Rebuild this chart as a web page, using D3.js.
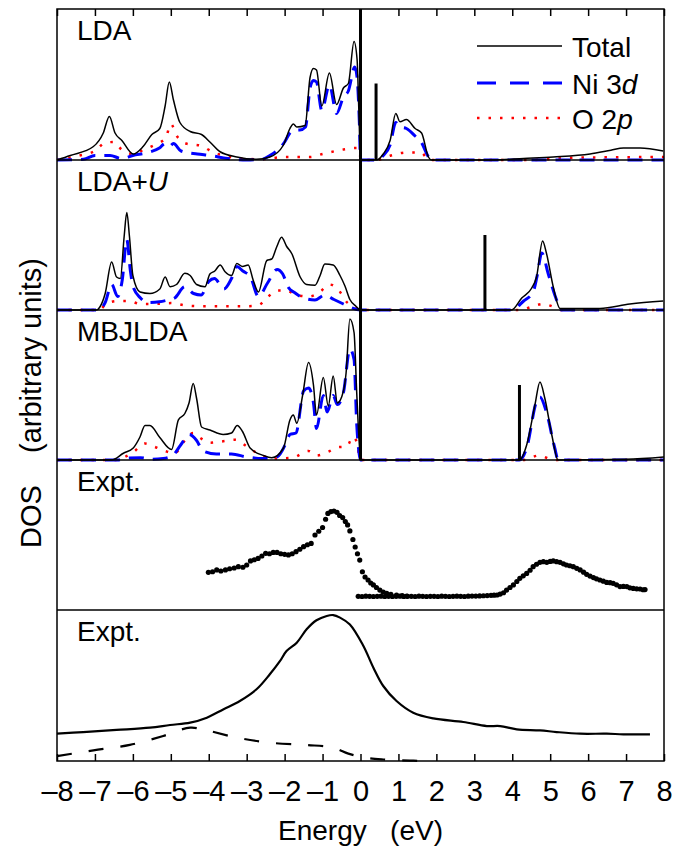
<!DOCTYPE html>
<html><head><meta charset="utf-8">
<script src="https://cdn.jsdelivr.net/npm/d3@7"></script>
<style>
html,body{margin:0;padding:0;background:#fff;}
text{font-family:"Liberation Sans",Arial,Helvetica,sans-serif;fill:#000;}
</style></head>
<body>
<svg id="chart" width="674" height="849"></svg>
<script>
// ---------------- DATA ----------------
const xTicks = [-8,-7,-6,-5,-4,-3,-2,-1,0,1,2,3,4,5,6,7,8];
const panelNames = ["LDA", "LDA+U", "MBJLDA", "Expt.", "Expt."];
const gapEnergy = [0.41, 3.28, 4.19];
const gapHeight = [51, 50, 50];

const ldaTotal = [[-8,0],[-7.65,3],[-7.04,9],[-6.78,18],[-6.62,29],[-6.47,18],[-6.29,13],[-5.99,4],[-5.73,9],[-5.5,17],[-5.29,21],[-5.15,36],[-5.04,52],[-4.93,40],[-4.76,25],[-4.49,19],[-4.19,17],[-3.97,12],[-3.7,5.5],[-3.26,2],[-2.74,0.5],[-2.39,2],[-2.03,10],[-1.86,21],[-1.77,24],[-1.68,22],[-1.46,23],[-1.33,55],[-1.24,61],[-1.16,60],[-1.02,36],[-0.82,58],[-0.63,37],[-0.45,48],[-0.32,51],[-0.17,79],[-0.09,67],[-0.04,30],[0,0],[0.43,0],[0.6,4],[0.78,13],[0.93,31],[1.04,25.5],[1.21,27],[1.44,21],[1.61,18],[1.79,2],[1.87,0],[3.5,0],[4.3,1],[5.08,2],[6.05,4],[6.6,6.5],[6.93,8],[7.37,8],[7.98,6]];
const ldaNi3d = [[-8,0],[-7.3,0.5],[-7.0,3],[-6.6,3],[-6.3,1],[-6.0,3],[-5.6,5],[-5.3,8],[-5.15,11],[-5.04,9],[-4.93,11],[-4.73,6],[-4.3,4],[-3.97,3],[-3.5,1],[-3.0,0],[-2.6,0.5],[-2.39,3],[-2.0,12],[-1.86,18],[-1.75,20],[-1.6,20],[-1.45,22],[-1.33,48],[-1.24,53],[-1.16,52],[-1.02,33],[-0.82,50],[-0.63,31],[-0.45,42],[-0.32,46],[-0.15,62],[-0.09,55],[-0.03,25],[0,0],[0.43,0],[0.6,3],[0.78,10],[0.93,25],[1.04,22],[1.21,21],[1.44,16],[1.6,12],[1.75,4],[1.85,0],[8,0]];
const ldaO2p = [[-8,0],[-7.41,3],[-7.0,6],[-6.73,11.5],[-6.5,12],[-6.3,7],[-6.0,4],[-5.7,7],[-5.43,10],[-5.13,15],[-5.0,24],[-4.84,16],[-4.6,11],[-4.2,9.5],[-3.88,5],[-3.6,3],[-3.2,1],[-2.6,0.5],[-2.0,2],[-1.33,2],[-1.0,4],[-0.45,7],[-0.1,8],[-0.02,6],[0,0],[0.43,0],[0.8,3],[1.2,5],[1.6,5],[1.8,0],[4.5,0],[5.6,1.5],[8,2]];

const ldauTotal = [[-8,0],[-6.95,0],[-6.87,2],[-6.73,11],[-6.56,32],[-6.43,22],[-6.33,21],[-6.23,49],[-6.16,65],[-6.09,49],[-6.0,23],[-5.81,12],[-5.55,11],[-5.29,14],[-5.15,22],[-5.02,15.5],[-4.85,17],[-4.63,24.5],[-4.49,23],[-4.32,17],[-4.1,15.5],[-3.97,24],[-3.84,26],[-3.7,30],[-3.57,25.5],[-3.4,23],[-3.26,31],[-3.11,29],[-2.96,30],[-2.83,20],[-2.69,12],[-2.47,33],[-2.34,34],[-2.21,42],[-2.08,48.5],[-1.95,42.5],[-1.81,37.5],[-1.59,22],[-1.42,17],[-1.2,16.5],[-1.07,22.7],[-0.94,30.7],[-0.72,30],[-0.54,23],[-0.41,16],[-0.28,7],[-0.12,2.5],[0,0],[3.98,0],[4.25,8],[4.51,14.5],[4.64,22],[4.8,46],[4.9,38],[5.08,15.5],[5.26,1],[6.31,1],[7.1,4],[7.98,6]];
const ldauNi3d = [[-8,0],[-6.9,0],[-6.73,5],[-6.56,17],[-6.4,9],[-6.28,20],[-6.16,47],[-6.07,27],[-6.0,16],[-5.8,8],[-5.6,5],[-5.3,5.5],[-5.1,6.5],[-4.9,8],[-4.63,15.5],[-4.4,11],[-4.2,10],[-4.0,19],[-3.85,21],[-3.6,14],[-3.4,21],[-3.26,29],[-3.1,26],[-2.9,22],[-2.69,9],[-2.45,18],[-2.2,27],[-2.05,24],[-1.9,15],[-1.73,11.5],[-1.5,8],[-1.2,6.7],[-0.94,10],[-0.7,7],[-0.45,4],[-0.28,2],[0,0],[3.98,0],[4.3,6],[4.55,12],[4.65,22],[4.78,38],[4.95,24],[5.18,6],[5.3,0],[8,0]];
const ldauO2p = [[-8,0],[-6.9,0],[-6.7,4],[-6.4,6],[-6.1,6],[-5.8,4],[-5.5,4],[-5.0,4.6],[-4.6,3],[-4.2,2.5],[-3.6,2.5],[-3.0,2.5],[-2.7,3],[-2.47,8],[-2.2,13],[-1.95,13],[-1.7,10],[-1.35,9],[-1.07,12],[-0.82,17],[-0.6,14],[-0.35,5],[-0.1,1],[0,0],[4.2,0],[4.5,2],[4.8,4],[5.1,2],[5.3,0],[8,0]];

const mbjTotal = [[-8,0],[-6.56,0],[-6.25,4.5],[-5.99,8],[-5.81,15.5],[-5.68,23],[-5.55,23],[-5.29,15],[-4.98,7],[-4.8,26.7],[-4.63,31],[-4.52,38],[-4.41,51],[-4.32,41],[-4.19,22],[-3.97,20],[-3.62,17],[-3.4,18],[-3.25,23],[-3.11,19],[-2.91,8],[-2.56,3],[-2.34,1.5],[-2.03,8],[-1.86,26.7],[-1.77,30],[-1.68,24.5],[-1.52,44],[-1.37,65],[-1.24,50],[-1.16,30],[-0.98,55],[-0.85,36],[-0.72,56],[-0.61,38],[-0.45,46],[-0.38,58],[-0.28,94],[-0.17,85],[-0.1,45],[-0.03,10],[0,0],[4.19,0],[4.38,10],[4.6,37],[4.73,52],[4.86,41],[5.04,17],[5.21,0],[7,0.5],[8,2]];
const mbjNi3d = [[-8,0],[-6.4,0],[-6.1,1.3],[-5.8,1.5],[-5.5,0.5],[-5.2,1],[-4.95,3],[-4.74,10],[-4.51,17],[-4.32,13],[-4.15,6],[-3.8,4],[-3.4,4],[-3.0,2],[-2.6,1],[-2.2,2],[-1.95,12],[-1.86,17],[-1.7,18],[-1.5,46],[-1.37,48],[-1.24,38],[-1.16,21],[-0.98,43],[-0.88,32],[-0.72,43],[-0.61,37],[-0.45,45],[-0.28,74],[-0.17,67],[-0.1,24],[-0.04,5],[0,0],[4.19,0],[4.38,8],[4.64,39],[4.73,42],[4.9,32],[5.12,8],[5.21,0],[8,0]];
const mbjO2p = [[-8,0],[-6.5,0],[-6.0,5],[-5.68,11],[-5.45,9],[-5.15,6],[-4.9,4.5],[-4.63,13],[-4.41,18],[-4.24,15],[-3.97,11.5],[-3.62,12.5],[-3.3,13.5],[-3.0,9],[-2.75,5],[-2.3,1],[-1.8,1.5],[-1.37,6],[-1.16,3],[-0.85,5.5],[-0.6,8.5],[-0.36,9],[-0.2,15.5],[-0.1,12],[0,0],[4.3,0],[4.7,3],[5.1,0],[8,0]];

// experimental points (photoemission, then BIS)
const exptPES = [[-4.01,25.1],[-3.9,25.5],[-3.79,26.7],[-3.68,26.0],[-3.56,26.7],[-3.45,27.5],[-3.33,28.0],[-3.22,28.9],[-3.1,28.5],[-3.0,30.0],[-2.9,32.7],[-2.8,33.5],[-2.7,34.4],[-2.6,36.0],[-2.5,37.8],[-2.4,37.5],[-2.3,38.4],[-2.2,38.4],[-2.1,37.5],[-2.0,37.1],[-1.9,36.7],[-1.8,37.5],[-1.7,38.9],[-1.6,40.5],[-1.5,42.2],[-1.4,43.5],[-1.3,44.4],[-1.2,50.0],[-1.1,52.5],[-1.0,55.0],[-0.92,60.5],[-0.86,64.4],[-0.78,65.6],[-0.7,66.0],[-0.62,65.1],[-0.55,63.0],[-0.47,61.6],[-0.4,59.0],[-0.34,56.7],[-0.28,52.7],[-0.2,47.0],[-0.14,42.0],[-0.08,37.5],[-0.02,33.3],[0.05,25.5],[0.12,22.0],[0.2,20.0],[0.27,18.0],[0.34,16.7],[0.42,15.0],[0.51,13.3],[0.6,12.0],[0.69,11.1],[0.8,10.5],[0.95,10.0],[1.1,9.6],[1.22,9.3]];
const exptBIS = [[-0.06,9.1],[0.04,9.0],[0.14,9.2],[0.24,9.1],[0.34,9.0],[0.44,9.1],[0.54,9.2],[0.64,9.0],[0.74,9.1],[0.84,9.0],[0.94,9.1],[1.04,9.2],[1.14,9.0],[1.24,9.1],[1.34,9.1],[1.44,9.0],[1.54,9.2],[1.64,9.1],[1.74,9.0],[1.84,9.1],[1.94,9.1],[2.04,9.0],[2.14,9.2],[2.24,9.1],[2.34,9.0],[2.44,9.1],[2.54,9.2],[2.64,9.1],[2.74,9.0],[2.84,9.2],[2.94,9.3],[3.04,9.3],[3.14,9.4],[3.24,9.5],[3.34,9.6],[3.44,9.8],[3.52,9.9],[3.6,10.0],[3.68,10.6],[3.77,11.5],[3.85,13.3],[3.94,15.0],[4.03,16.7],[4.12,19.0],[4.2,21.1],[4.29,22.8],[4.38,24.4],[4.47,26.5],[4.55,28.9],[4.64,30.5],[4.73,31.8],[4.82,32.2],[4.91,31.8],[5.0,32.4],[5.08,32.7],[5.17,32.2],[5.26,31.8],[5.35,30.8],[5.43,30.0],[5.52,29.5],[5.61,28.9],[5.7,27.8],[5.79,26.7],[5.88,25.2],[5.96,23.8],[6.05,22.6],[6.14,21.6],[6.22,20.8],[6.31,20.0],[6.4,19.2],[6.49,18.4],[6.58,18.2],[6.66,17.8],[6.75,16.8],[6.84,15.6],[6.93,15.7],[7.02,15.6],[7.1,14.8],[7.19,14.4],[7.28,14.1],[7.37,14.0],[7.45,13.5],[7.5,13.6]];

const exptLine = [[-8,18.2],[-7.31,19.3],[-6.43,20.7],[-5.55,22.2],[-5.02,24],[-4.49,25.6],[-4.05,28.9],[-3.62,34.4],[-3.18,40],[-2.74,47.8],[-2.39,57.8],[-2.12,66.7],[-1.95,73.3],[-1.68,78.9],[-1.42,87.8],[-1.16,93.8],[-0.89,96.7],[-0.72,97.3],[-0.54,95.6],[-0.28,91],[0.07,77],[0.34,62.2],[0.6,50],[0.95,40],[1.39,32.2],[1.92,28.4],[2.71,26],[3.33,23.3],[3.68,23.3],[4.12,21.1],[4.73,20.4],[5.17,19.3],[5.79,18.2],[6.49,18.2],[6.93,17.8],[7.63,17.8]];
const exptDashed = [[-8,3.3],[-7.04,7.1],[-6.08,10.7],[-5.2,16.7],[-4.49,22.2],[-4.05,20.4],[-3.26,15.6],[-2.39,12.2],[-1.42,10.7],[-0.72,8.9],[-0.32,4.9],[0.12,2.2],[0.6,1],[1.3,0.3],[1.6,0]];

// ---------------- LAYOUT ----------------
const svg = d3.select("#chart");
const L = 57, R = 664;
const panelTop = [9, 160, 310, 460, 610];
const panelBottom = [160, 310, 460, 610, 761];
const FS = 28;

const x = d3.scaleLinear().domain([-8, 8]).range([L, R]);
const yScales = panelBottom.map(b => d3.scaleLinear().domain([0, 100]).range([b, b - 150]));

const styles = {
  total: {stroke: "#000", width: 1.5, dash: null},
  ni:    {stroke: "#0000ff", width: 3, dash: "15,9"},
  o:     {stroke: "#ff0000", width: 2.5, dash: "2.5,9"}
};

function drawLine(data, yS, st, curve) {
  const line = d3.line().x(d => x(d[0])).y(d => yS(d[1])).curve(curve || d3.curveMonotoneX);
  const p = svg.append("path").datum(data).attr("d", line)
    .attr("fill", "none").attr("stroke", st.stroke).attr("stroke-width", st.width)
    .attr("stroke-linejoin", "round");
  if (st.dash) p.attr("stroke-dasharray", st.dash);
  return p;
}

const theory = [
  [ldaTotal, ldaNi3d, ldaO2p],
  [ldauTotal, ldauNi3d, ldauO2p],
  [mbjTotal, mbjNi3d, mbjO2p]
];
theory.forEach((set, i) => {
  const yS = yScales[i];
  drawLine(set[2], yS, styles.o);
  drawLine(set[1], yS, styles.ni);
  drawLine(set[0], yS, styles.total);
  svg.append("line").attr("x1", x(gapEnergy[i])).attr("x2", x(gapEnergy[i]))
    .attr("y1", yS(0)).attr("y2", yS(gapHeight[i]))
    .attr("stroke", "#000").attr("stroke-width", 3);
});

// experimental scatter
const y4 = yScales[3];
svg.append("g").selectAll("circle").data(exptPES.concat(exptBIS)).join("circle")
  .attr("cx", d => x(d[0])).attr("cy", d => y4(d[1])).attr("r", 2.6).attr("fill", "#000");

// experimental line
const y5 = yScales[4];
drawLine(exptLine, y5, {stroke: "#000", width: 2.2, dash: null}, d3.curveCatmullRom);
drawLine(exptDashed, y5, {stroke: "#000", width: 2.2, dash: "15,17"}, d3.curveCatmullRom);

// zero line
svg.append("line").attr("x1", x(0)).attr("x2", x(0)).attr("y1", panelTop[0]).attr("y2", panelBottom[2])
  .attr("stroke", "#000").attr("stroke-width", 3);

// frame & separators
svg.append("rect").attr("x", L).attr("y", panelTop[0]).attr("width", R - L).attr("height", panelBottom[4] - panelTop[0])
  .attr("fill", "none").attr("stroke", "#000").attr("stroke-width", 1.5);
panelBottom.slice(0, 4).forEach(b => {
  svg.append("line").attr("x1", L).attr("x2", R).attr("y1", b).attr("y2", b)
    .attr("stroke", "#000").attr("stroke-width", 1.5);
});

// ticks via axes
const axTop = d3.axisBottom(x).tickValues(xTicks).tickSize(7).tickFormat("");
const gTop = svg.append("g").attr("transform", `translate(0,${panelTop[0]})`).call(axTop);
gTop.select(".domain").remove();
gTop.selectAll("line").attr("stroke-width", 1.5);

const axBot = d3.axisBottom(x).tickValues(xTicks).tickSize(0).tickPadding(0)
  .tickFormat(d => d < 0 ? "\u2013" + Math.abs(d) : String(d));
const gBot = svg.append("g").attr("transform", `translate(0,${panelBottom[4]})`).call(axBot);
gBot.select(".domain").remove();
gBot.selectAll("text").attr("font-size", 29).attr("dy", null).attr("y", 40)
  .attr("font-family", '"Liberation Sans",Arial,sans-serif').attr("fill", "#000");
gBot.selectAll(".tick").append("line").attr("y1", 0).attr("y2", -7).attr("stroke", "#000").attr("stroke-width", 1.5);

// panel labels
panelNames.forEach((n, i) => {
  const t = svg.append("text").attr("x", 77).attr("y", panelTop[i] + 31).attr("font-size", FS);
  if (n === "LDA+U") {
    t.append("tspan").text("LDA+");
    t.append("tspan").attr("font-style", "italic").text("U");
  } else t.text(n);
});

// legend
const legY = [46, 83, 118];
const legItems = [
  {st: styles.total, parts: [["Total", false]]},
  {st: styles.ni, parts: [["Ni 3", false], ["d", true]]},
  {st: styles.o, parts: [["O 2", false], ["p", true]]}
];
legItems.forEach((it, i) => {
  const l = svg.append("line").attr("x1", 477).attr("x2", 562).attr("y1", legY[i]).attr("y2", legY[i])
    .attr("stroke", it.st.stroke).attr("stroke-width", it.st.width);
  if (it.st.dash) l.attr("stroke-dasharray", i === 1 ? "19,14" : "2.5,9");
  const t = svg.append("text").attr("x", 572).attr("y", legY[i] + 10.5).attr("font-size", FS);
  it.parts.forEach(p => t.append("tspan").attr("font-style", p[1] ? "italic" : "normal").text(p[0]));
});

// axis titles
svg.append("text").attr("x", (L + R) / 2).attr("y", 840).attr("text-anchor", "middle").attr("font-size", FS)
  .style("white-space", "pre").text("Energy   (eV)");
svg.append("text").attr("transform", "translate(41,403) rotate(-90)").attr("text-anchor", "middle")
  .attr("font-size", 29).style("white-space", "pre").text("DOS    (arbitrary units)");
</script>
</body></html>
